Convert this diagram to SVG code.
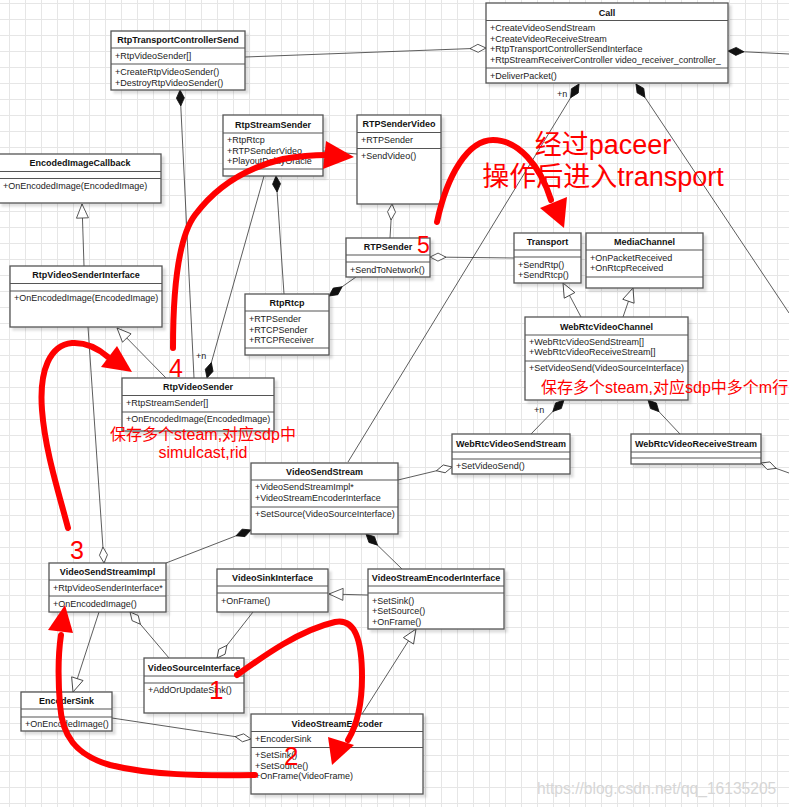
<svg xmlns="http://www.w3.org/2000/svg" width="789" height="807" viewBox="0 0 789 807">
<style>
text{font-family:"Liberation Sans",Arial,sans-serif}
.box{fill:#fff;stroke:#555;stroke-width:1.3;filter:url(#sh)}
.dv{fill:none;stroke:#555;stroke-width:1.1}
.t{font-size:9px;font-weight:bold;text-anchor:middle;fill:#111}
.m{font-size:9px;fill:#222}
.c{fill:none;stroke:#333;stroke-width:0.8}
.hd{marker-start:url(#hdia)}
.fd{marker-start:url(#fdia)}
.tr{marker-start:url(#tri)}
.red{fill:none;stroke:#f00;stroke-width:6;stroke-linecap:round}
.rh{fill:#f00}
.rt{fill:#f00;font-family:"Liberation Sans","Noto Sans CJK SC",sans-serif}
.wm{fill:#d6d6d6;font-size:15.6px}
</style>
<defs>
<pattern id="grid" x="9" y="3" width="16" height="16" patternUnits="userSpaceOnUse"><path d="M0.5,0V16M0,0.5H16" stroke="#e6e6e6" stroke-width="1" fill="none"/></pattern>
<filter id="sh" x="-10%" y="-10%" width="130%" height="140%"><feDropShadow dx="3" dy="3" stdDeviation="1.2" flood-color="#000" flood-opacity="0.13"/></filter>
<marker id="hdia" markerUnits="userSpaceOnUse" markerWidth="18" markerHeight="10" refX="0" refY="4" orient="auto" overflow="visible"><path d="M0,4L8,0L16,4L8,8Z" fill="#fff" stroke="#333" stroke-width="0.8"/></marker>
<marker id="fdia" markerUnits="userSpaceOnUse" markerWidth="18" markerHeight="10" refX="0" refY="4" orient="auto" overflow="visible"><path d="M0,4L8,0L16,4L8,8Z" fill="#111" stroke="#111" stroke-width="0.8"/></marker>
<marker id="tri" markerUnits="userSpaceOnUse" markerWidth="16" markerHeight="14" refX="0" refY="6" orient="auto" overflow="visible"><path d="M0,6L14,0L14,12Z" fill="#fff" stroke="#333" stroke-width="0.8"/></marker>
</defs>
<rect x="0" y="0" width="789" height="807" fill="#fff"/>
<rect x="0" y="0" width="789" height="807" fill="url(#grid)"/>

<g id="connectors">
<path class="c hd" d="M486,48L245,57"/>
<path class="c fd" d="M728,51L789,54"/>
<path class="c fd" d="M579,84L348,462"/>
<text class="m" x="557" y="97">+n</text>
<path class="c fd" d="M636,84L789,313"/>
<path class="c fd" d="M180,90L194,378"/>
<path class="c fd" d="M207,378L264,176"/>
<text class="m" x="196" y="359">+n</text>
<path class="c fd" d="M276,176L284,294"/>
<path class="c" d="M323,151L357,154"/>
<path class="c hd" d="M392,204L390,238"/>
<path class="c hd" d="M430,257L514,258"/>
<path class="c fd" d="M329,296L356,277"/>
<path class="c tr" d="M82,204L84,266"/>
<path class="c tr" d="M117,328L166,378"/>
<path class="c hd" d="M104,563L88,327"/>
<path class="c fd" d="M251,530L166,563"/>
<path class="c hd" d="M452,467L398,480"/>
<path class="c fd" d="M366,534L402,569"/>
<path class="c tr" d="M329,594L368,595"/>
<path class="c tr" d="M73,692L99,612"/>
<path class="c hd" d="M130,612L169,658"/>
<path class="c hd" d="M217,658L253,612"/>
<path class="c hd" d="M251,739L112,718"/>
<path class="c tr" d="M416,629L362,714"/>
<path class="c tr" d="M563,283L581,317"/>
<path class="c tr" d="M633,288L623,317"/>
<path class="c fd" d="M564,400L531,434"/>
<text class="m" x="534" y="413">+n</text>
<path class="c fd" d="M648,400L680,434"/>
<path class="c hd" d="M761,463L789,473"/>
</g>

<g id="RtpTransportControllerSend">
<rect class="box" x="111" y="31" width="134" height="59"/>
<path class="dv" d="M111,48H245M111,64H245"/>
<text class="t" x="178" y="43">RtpTransportControllerSend</text>
<text class="m" x="115" y="59">+RtpVideoSender[]</text>
<text class="m" x="115" y="75">+CreateRtpVideoSender()</text>
<text class="m" x="115" y="86">+DestroyRtpVideoSender()</text>
</g>

<g id="Call">
<rect class="box" x="486" y="3" width="242" height="80"/>
<path class="dv" d="M486,20.5H728M486,68H728"/>
<text class="t" x="607" y="15.5">Call</text>
<text class="m" x="490" y="31">+CreateVideoSendStream</text>
<text class="m" x="490" y="42">+CreateVideoReceiveStream</text>
<text class="m" x="490" y="52">+RtpTransportControllerSendInterface</text>
<text class="m" x="490" y="63">+RtpStreamReceiverController video_receiver_controller_</text>
<text class="m" x="490" y="79">+DeliverPacket()</text>
</g>

<g id="RtpStreamSender">
<rect class="box" x="223" y="115" width="100" height="61"/>
<path class="dv" d="M223,133H323M223,169H323"/>
<text class="t" x="273" y="127.5">RtpStreamSender</text>
<text class="m" x="227" y="143">+RtpRtcp</text>
<text class="m" x="227" y="153.5">+RTPSenderVideo</text>
<text class="m" x="227" y="164">+PlayoutDelayOracle</text>
</g>

<g id="RTPSenderVideo">
<rect class="box" x="357" y="115" width="84" height="89"/>
<path class="dv" d="M357,132.5H441M357,148.5H441"/>
<text class="t" x="399" y="127">RTPSenderVideo</text>
<text class="m" x="361" y="143">+RTPSender</text>
<text class="m" x="361" y="159">+SendVideo()</text>
</g>

<g id="RTPSender">
<rect class="box" x="346" y="238" width="84" height="39"/>
<path class="dv" d="M346,255H430M346,262H430"/>
<text class="t" x="388" y="250">RTPSender</text>
<text class="m" x="350" y="273">+SendToNetwork()</text>
</g>

<g id="EncodedImageCallback">
<rect class="box" x="-1" y="154" width="162" height="49"/>
<path class="dv" d="M-1,171.5H161M-1,178.5H161"/>
<text class="t" x="80" y="166">EncodedImageCallback</text>
<text class="m" x="3" y="189">+OnEncodedImage(EncodedImage)</text>
</g>

<g id="RtpVideoSenderInterface">
<rect class="box" x="10" y="266" width="152" height="61"/>
<path class="dv" d="M10,283.5H162M10,291H162"/>
<text class="t" x="86" y="278">RtpVideoSenderInterface</text>
<text class="m" x="14" y="301">+OnEncodedImage(EncodedImage)</text>
</g>

<g id="RtpRtcp">
<rect class="box" x="245" y="294" width="84" height="61"/>
<path class="dv" d="M245,311H329M245,348H329"/>
<text class="t" x="287" y="306">RtpRtcp</text>
<text class="m" x="249" y="322">+RTPSender</text>
<text class="m" x="249" y="333">+RTCPSender</text>
<text class="m" x="249" y="343">+RTCPReceiver</text>
</g>

<g id="RtpVideoSender">
<rect class="box" x="122" y="378" width="152" height="53"/>
<path class="dv" d="M122,395.5H274M122,412H274"/>
<text class="t" x="198" y="390">RtpVideoSender</text>
<text class="m" x="126" y="406">+RtpStreamSender[]</text>
<text class="m" x="126" y="422">+OnEncodedImage(EncodedImage)</text>
</g>

<g id="Transport">
<rect class="box" x="514" y="233" width="67" height="50"/>
<path class="dv" d="M514,250H581M514,257H581"/>
<text class="t" x="547.5" y="245">Transport</text>
<text class="m" x="518" y="267.5">+SendRtp()</text>
<text class="m" x="518" y="277.5">+SendRtcp()</text>
</g>

<g id="MediaChannel">
<rect class="box" x="586" y="233" width="117" height="55"/>
<path class="dv" d="M586,250H703M586,277H703"/>
<text class="t" x="644.5" y="245">MediaChannel</text>
<text class="m" x="590" y="261">+OnPacketReceived</text>
<text class="m" x="590" y="271">+OnRtcpReceived</text>
</g>

<g id="WebRtcVideoChannel">
<rect class="box" x="525" y="317" width="163" height="83"/>
<path class="dv" d="M525,335H688M525,361H688"/>
<text class="t" x="606.5" y="329.5">WebRtcVideoChannel</text>
<text class="m" x="529" y="345">+WebRtcVideoSendStream[]</text>
<text class="m" x="529" y="355">+WebRtcVideoReceiveStream[]</text>
<text class="m" x="529" y="371">+SetVideoSend(VideoSourceInterface)</text>
</g>

<g id="WebRtcVideoSendStream">
<rect class="box" x="452" y="434" width="118" height="40"/>
<path class="dv" d="M452,452H570M452,459H570"/>
<text class="t" x="511" y="446.5">WebRtcVideoSendStream</text>
<text class="m" x="456" y="469">+SetVideoSend()</text>
</g>

<g id="WebRtcVideoReceiveStream">
<rect class="box" x="631" y="434" width="130" height="30"/>
<path class="dv" d="M631,452H761M631,458H761"/>
<text class="t" x="696" y="446.5">WebRtcVideoReceiveStream</text>
</g>

<g id="VideoSendStream">
<rect class="box" x="251" y="463" width="147" height="71"/>
<path class="dv" d="M251,480H398M251,507H398"/>
<text class="t" x="324.5" y="474.5">VideoSendStream</text>
<text class="m" x="255" y="490">+VideoSendStreamImpl*</text>
<text class="m" x="255" y="501">+VideoStreamEncoderInterface</text>
<text class="m" x="255" y="517">+SetSource(VideoSourceInterface)</text>
</g>

<g id="VideoSendStreamImpl">
<rect class="box" x="49" y="563" width="117" height="49"/>
<path class="dv" d="M49,580H166M49,596H166"/>
<text class="t" x="107.5" y="575">VideoSendStreamImpl</text>
<text class="m" x="53" y="591">+RtpVideoSenderInterface*</text>
<text class="m" x="53" y="607">+OnEncodedImage()</text>
</g>

<g id="VideoSinkInterface">
<rect class="box" x="217" y="569" width="111" height="43"/>
<path class="dv" d="M217,586H328M217,593H328"/>
<text class="t" x="272.5" y="581">VideoSinkInterface</text>
<text class="m" x="221" y="604">+OnFrame()</text>
</g>

<g id="VideoStreamEncoderInterface">
<rect class="box" x="368" y="569" width="136" height="60"/>
<path class="dv" d="M368,586H504M368,593H504"/>
<text class="t" x="436" y="581">VideoStreamEncoderInterface</text>
<text class="m" x="372" y="604">+SetSink()</text>
<text class="m" x="372" y="614">+SetSource()</text>
<text class="m" x="372" y="625">+OnFrame()</text>
</g>

<g id="VideoSourceInterface">
<rect class="box" x="144" y="658" width="100" height="55"/>
<path class="dv" d="M144,676H244M144,683H244"/>
<text class="t" x="194" y="671">VideoSourceInterface</text>
<text class="m" x="148" y="693">+AddOrUpdateSink()</text>
</g>

<g id="EncoderSink">
<rect class="box" x="21" y="692" width="91" height="39"/>
<path class="dv" d="M21,709H112M21,717H112"/>
<text class="t" x="66.5" y="704">EncoderSink</text>
<text class="m" x="25" y="727">+OnEncodedImage()</text>
</g>

<g id="VideoStreamEncoder">
<rect class="box" x="251" y="714" width="172" height="80"/>
<path class="dv" d="M251,731.5H423M251,747.5H423"/>
<text class="t" x="337" y="726.5">VideoStreamEncoder</text>
<text class="m" x="255" y="742">+EncoderSink</text>
<text class="m" x="255" y="758">+SetSink()</text>
<text class="m" x="255" y="769">+SetSource()</text>
<text class="m" x="255" y="779">+OnFrame(VideoFrame)</text>
</g>

<g id="annotations">
<path class="red" d="M437,222C447,175 468,140 493,140C518,140 540,165 551,200"/>
<polygon class="rh" points="540,208 567,197 564,228"/>
<path class="red" d="M173,348C173,280 180,235 195,215C215,188 245,168 283,159C300,156 315,155 327,155"/>
<polygon class="rh" points="326,141 354,157 323,169"/>
<path class="red" d="M68,528C58,490 45,450 42,410C39,370 50,345 72,343C88,342 100,350 108,357"/>
<polygon class="rh" points="101,367 117,346 132,372"/>
<path class="red" d="M237,675C265,655 300,630 335,622C355,618 362,640 362,677C362,705 357,725 348,740"/>
<polygon class="rh" points="328,737 354,745 332,765"/>
<path class="red" d="M255,775C200,776 150,775 110,765C75,755 62,735 60,705C58,680 58,655 61,635"/>
<polygon class="rh" points="48,630 73,633 65,605"/>
<text class="rt" x="603" y="154" font-size="27" text-anchor="middle">经过paceer</text>
<text class="rt" x="603" y="186" font-size="27" text-anchor="middle">操作后进入transport</text>
<text class="rt" x="417" y="253" font-size="23">5</text>
<text class="rt" x="169" y="377" font-size="25">4</text>
<text class="rt" x="70" y="559" font-size="25">3</text>
<text class="rt" x="209" y="699" font-size="26">1</text>
<text class="rt" x="284" y="765" font-size="26">2</text>
<text class="rt" x="203" y="440" font-size="16" text-anchor="middle">保存多个steam,对应sdp中</text>
<text class="rt" x="203" y="458" font-size="16" text-anchor="middle">simulcast,rid</text>
<text class="rt" x="541" y="393" font-size="16">保存多个steam,对应sdp中多个m行</text>
</g>
<text class="wm" x="537" y="794">https://blog.csdn.net/qq_16135205</text>
</svg>
